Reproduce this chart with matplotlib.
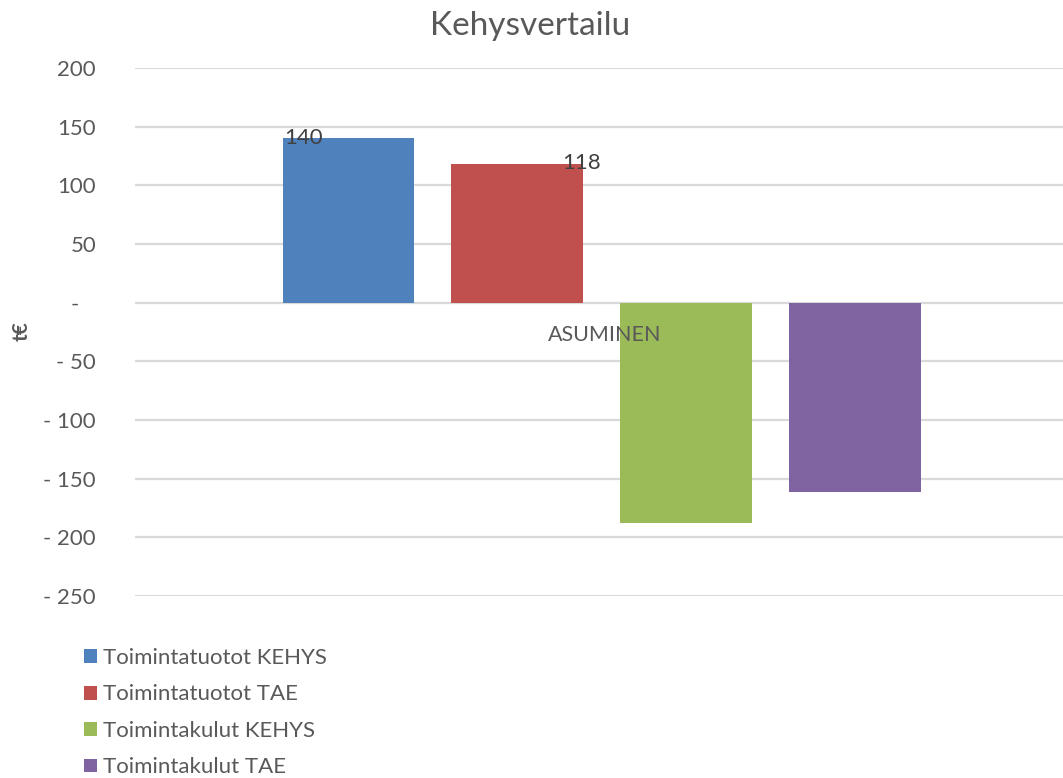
import matplotlib.pyplot as plt
from matplotlib.patches import Patch

# data
category = "ASUMINEN"
series = ["Toimintatuotot KEHYS", "Toimintatuotot TAE",
          "Toimintakulut KEHYS", "Toimintakulut TAE"]
values = [140, 118, -188, -161]
colors = ["#4F81BD", "#C0504D", "#9BBB59", "#8064A2"]
yticks = [200, 150, 100, 50, 0, -50, -100, -150, -200, -250]
ytick_labels = ["200", "150", "100", "50", "-   ", "- 50", "- 100", "- 150", "- 200", "- 250"]

plt.rcParams["font.family"] = ["Lato", "DejaVu Sans"]
txt = "#595959"

fig = plt.figure(figsize=(10.63, 7.78), dpi=100)
ax = fig.add_axes([135 / 1063, 1 - 596 / 778, 1 - 135 / 1063, (596 - 68) / 778])

step = 0.182
width = 0.142
offsets = [(i - 1.5) * step for i in range(len(values))]
bars = ax.bar(offsets, values, width=width, color=colors, zorder=3)

ax.set_xlim(-0.503, 0.497)
ax.set_ylim(-250, 200)
ax.set_yticks(yticks)
ax.set_yticklabels(ytick_labels)
ax.tick_params(axis="y", length=0, pad=28, labelsize=16, labelcolor=txt)
ax.set_xticks([])
ax.grid(axis="y", color="#d9d9d9", linewidth=1.6, zorder=0)
for s in ax.spines.values():
    s.set_visible(False)

# data labels for the positive bars
ax.annotate(str(values[0]), (offsets[0] - width / 2, values[0]), xytext=(1.4, 0.4),
            textcoords="offset points", ha="left", va="center",
            fontsize=16, color="#404040")
ax.annotate(str(values[1]), (offsets[1] + width / 2, values[1]), xytext=(13, 0.6),
            textcoords="offset points", ha="right", va="center",
            fontsize=16, color="#404040")

# category label next to the zero line
ax.annotate(category, (0, 0), xytext=(2, -23), textcoords="offset points",
            ha="center", va="center", fontsize=15.5, color=txt)

fig.text(22 / 1063, 1 - 331 / 778, "t€", rotation=90, ha="center", va="center",
         fontsize=15, fontweight="bold", color=txt)
fig.text(530 / 1063, 1 - 26 / 778, "Kehysvertailu", ha="center", va="center",
         fontsize=24, color=txt)

handles = [Patch(facecolor=c, edgecolor="none") for c in colors]
fig.legend(handles, series, loc="upper left", bbox_to_anchor=(84 / 1063, 1 - 648 / 778),
           frameon=False, fontsize=16, labelcolor=txt, handlelength=0.59,
           handleheight=0.59, handletextpad=0.27, labelspacing=0.74,
           borderaxespad=0, borderpad=0)

fig.savefig("out.png", dpi=100)
